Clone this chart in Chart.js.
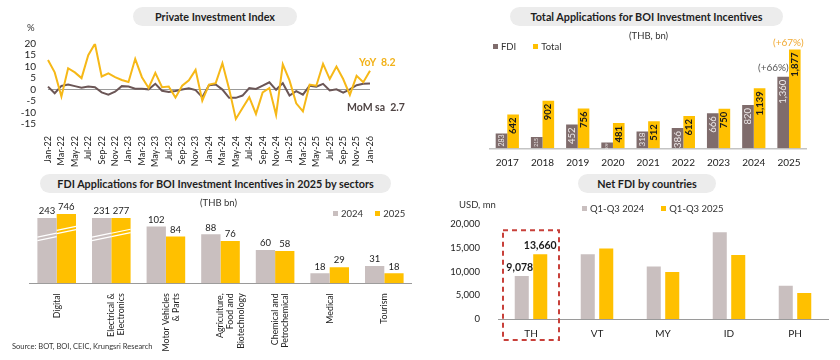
<!DOCTYPE html>
<html>
<head>
<meta charset="utf-8">
<script src="https://cdn.jsdelivr.net/npm/chart.js@4.4.1/dist/chart.umd.min.js"></script>
<style>
  body { margin:0; width:840px; height:360px; background:#fff; position:relative; overflow:hidden; font-family: Lato, "Open Sans", sans-serif; color:#222; }
  .pill { position:absolute; z-index:2; height:19px; line-height:19px; background:#ececec; border-radius:10px; text-align:center; font-weight:bold; font-size:10.8px; color:#1e1e1e; white-space:nowrap; }
  .txt { position:absolute; z-index:2; font-size:9.5px; color:#333; white-space:nowrap; }
  .sq { display:inline-block; width:5px; height:5px; margin-right:3px; vertical-align:middle; position:relative; top:-1px; }
  canvas { position:absolute; z-index:1; }
</style>
</head>
<body>
<canvas id="c1" width="420" height="170" style="left:0;top:0;"></canvas>
<canvas id="c2" width="420" height="170" style="left:420px;top:0;"></canvas>
<canvas id="c3" width="420" height="190" style="left:0;top:170px;"></canvas>
<canvas id="c4" width="420" height="190" style="left:420px;top:170px;"></canvas>

<!-- Panel titles -->
<div class="pill" style="left:133px;top:7px;width:164px;">Private Investment Index</div>
<div class="pill" style="left:510px;top:7px;width:273px;">Total Applications for BOI Investment Incentives</div>
<div class="pill" style="left:40px;top:174px;width:351px;">FDI Applications for BOI Investment Incentives in 2025 by sectors</div>
<div class="pill" style="left:578px;top:174px;width:138px;">Net FDI by countries</div>

<!-- Panel 1 texts -->
<div class="txt" style="left:27px;top:22px;">%</div>
<div class="txt" style="left:359px;top:56px;font-weight:bold;color:#F2B21A;font-size:10.5px;">YoY&nbsp; 8.2</div>
<div class="txt" style="left:347px;top:101px;font-weight:bold;color:#4f4444;font-size:10.5px;">MoM sa&nbsp; 2.7</div>

<!-- Panel 2 texts -->
<div class="txt" style="left:629px;top:30px;">(THB, bn)</div>
<div class="txt" style="left:493px;top:41px;"><span class="sq" style="background:#7F6C6C"></span>FDI&nbsp;&nbsp;&nbsp;&nbsp;&nbsp;&nbsp;&nbsp;<span class="sq" style="background:#FFC000"></span>Total</div>
<div class="txt" style="left:758px;top:61px;color:#555;font-size:10px;">(+66%)</div>
<div class="txt" style="left:773px;top:36px;color:#F0A830;font-size:10px;">(+67%)</div>

<!-- Panel 3 texts -->
<div class="txt" style="left:200px;top:197px;">(THB bn)</div>
<div class="txt" style="left:333px;top:208px;"><span class="sq" style="background:#C9BFBF"></span>2024&nbsp;&nbsp;&nbsp;&nbsp;&nbsp;<span class="sq" style="background:#FFC000"></span>2025</div>
<div class="txt" style="left:12px;top:342px;font-size:7.5px;">Source: BOT, BOI, CEIC, Krungsri Research</div>

<!-- Panel 4 texts -->
<div class="txt" style="left:459px;top:199px;">USD, mn</div>
<div class="txt" style="left:582px;top:203px;"><span class="sq" style="background:#C9BFBF"></span>Q1-Q3 2024&nbsp;&nbsp;&nbsp;&nbsp;&nbsp;&nbsp;&nbsp;<span class="sq" style="background:#FFC000"></span>Q1-Q3 2025</div>

<script>
// ---------------- DATA ----------------
const months = ['Jan-22','Feb-22','Mar-22','Apr-22','May-22','Jun-22','Jul-22','Aug-22','Sep-22','Oct-22','Nov-22','Dec-22',
  'Jan-23','Feb-23','Mar-23','Apr-23','May-23','Jun-23','Jul-23','Aug-23','Sep-23','Oct-23','Nov-23','Dec-23',
  'Jan-24','Feb-24','Mar-24','Apr-24','May-24','Jun-24','Jul-24','Aug-24','Sep-24','Oct-24','Nov-24','Dec-24',
  'Jan-25','Feb-25','Mar-25','Apr-25','May-25','Jun-25','Jul-25','Aug-25','Sep-25','Oct-25','Nov-25','Dec-25','Jan-26'];
const yoy = [12.9,7.5,-3,9.3,7.5,5,15,20,5.7,7.1,5.4,4.2,
  3.3,13.4,5.4,0.7,7.3,1,1.3,-3.5,1.7,4,8.6,-4.8,
  2.2,2.8,11.5,0.3,-12.8,-8,-3.3,-10.6,-1.2,0.7,-11,11,
  4,-6,-9.5,2.2,1.7,11.2,4.6,10,4.6,-2.3,6,3.2,8.2];
const mom = [1.3,-1.6,1.6,2.2,1.5,0.8,1.3,1.0,-1.2,-2.2,-0.9,1.5,
  1.3,0.4,0.4,0.1,2.5,-0.5,-1.0,-0.6,0,0.6,-0.2,-3.3,
  1.9,2.2,0,-3.6,-3.6,-2.6,0.7,0.3,1.7,3.2,-0.1,2.8,
  -2.6,-0.7,-2.2,1.7,1.3,2.5,-0.4,0.1,-1.3,0.1,1.9,2.5,2.7];

const boiYears = ['2017','2018','2019','2020','2021','2022','2023','2024','2025'];
const boiFdi   = [283,215,452,109,318,386,666,820,1360];
const boiTotal = [642,902,756,481,512,612,750,1139,1877];

const sectors = ['Digital',['Electrical &','Electronics'],['Motor Vehicles','& Parts'],['Agriculture,','Food and','Biotechnology'],['Chemical and','Petrochemical'],'Medical','Tourism'];
const sector2024 = [243,231,102,88,60,18,31];
const sector2025 = [746,277,84,76,58,29,18];

const countries = ['TH','VT','MY','ID','PH'];
const netFdi2024 = [9078,13700,11100,18300,7000];
const netFdi2025 = [13660,14900,9900,13500,5500];

// ---------------- STYLE ----------------
const YELLOW = '#FFC000';
const GREY = '#C9BFBF';
const BROWN = '#7F6C6C';
const FONT = 'Lato, "Open Sans", sans-serif';
Chart.defaults.font.family = FONT;
Chart.defaults.color = '#222';

// ---------------- CHART 1: line ----------------
new Chart(document.getElementById('c1'), {
  type: 'line',
  data: {
    labels: months,
    datasets: [
      { data: yoy, borderColor: '#F6B817', borderWidth: 2, pointRadius: 0, tension: 0 },
      { data: mom, borderColor: '#6B5656', borderWidth: 2, pointRadius: 0, tension: 0 }
    ]
  },
  options: {
    responsive: false, animation: false,
    layout: { padding: { top: 43.7, right: 50, bottom: 0, left: 0 } },
    plugins: { legend: { display: false }, tooltip: { enabled: false } },
    scales: {
      x: {
        grid: { display: false }, border: { display: false },
        afterFit: s => { s.height = 46; },
        ticks: { autoSkip: false, minRotation: 90, maxRotation: 90, padding: 4, font: { size: 9 },
          callback: function(v, i) { return i % 2 === 0 ? this.getLabelForValue(v) : ''; } }
      },
      y: {
        min: -15, max: 20,
        afterFit: s => { s.width = 48; },
        border: { display: false },
        grid: { drawTicks: false, color: c => c.tick.value === 0 ? '#9a9a9a' : 'rgba(0,0,0,0)', lineWidth: 1 },
        ticks: { autoSkip: false, stepSize: 5, padding: 12, font: { size: 10 } }
      }
    }
  }
});

// ---------------- CHART 2: BOI totals ----------------
const insideLabels = {
  id: 'insideLabels',
  afterDatasetsDraw(chart) {
    const ctx = chart.ctx;
    chart.data.datasets.forEach((ds, di) => {
      const meta = chart.getDatasetMeta(di);
      meta.data.forEach((bar, i) => {
        const h = bar.base - bar.y;
        let fs = 9.5;
        const txt = ds.data[i].toLocaleString('en-US');
        ctx.save();
        ctx.font = (di === 1 ? 'bold ' : '') + fs + 'px ' + FONT;
        let w = ctx.measureText(txt).width;
        if (w + 5 > h) { fs = Math.max(3.5, fs * (h - 2) / (w + 1)); ctx.font = fs + 'px ' + FONT; }
        ctx.fillStyle = di === 0 ? '#eeeaea' : '#1a1a1a';
        ctx.translate(bar.x, bar.y + (fs < 9.5 ? 1 : 3));
        ctx.rotate(-Math.PI / 2);
        ctx.textAlign = 'right';
        ctx.textBaseline = 'middle';
        ctx.fillText(txt, 0, 0);
        ctx.restore();
      });
    });
  }
};
new Chart(document.getElementById('c2'), {
  type: 'bar',
  data: {
    labels: boiYears,
    datasets: [
      { label: 'FDI', data: boiFdi, backgroundColor: BROWN, categoryPercentage: 0.66, barPercentage: 1 },
      { label: 'Total', data: boiTotal, backgroundColor: YELLOW, categoryPercentage: 0.66, barPercentage: 1 }
    ]
  },
  options: {
    responsive: false, animation: false,
    layout: { padding: { top: 42.9, right: 33.4, bottom: 0, left: 69.7 } },
    plugins: { legend: { display: false }, tooltip: { enabled: false } },
    scales: {
      x: { grid: { display: false }, border: { color: '#c4c4c4', width: 1.5 },
           afterFit: s => { s.height = 21.7; },
           ticks: { padding: 0, font: { size: 10 } } },
      y: { display: false, min: 0, max: 2000 }
    }
  },
  plugins: [insideLabels]
});

// ---------------- CHART 3: sectors (broken axis for Digital / E&E) ----------------
const BREAK_LEVEL = 117.5;
const brokenScale = v => v <= 110 ? v : BREAK_LEVEL + Math.max(0, v - 280) * 0.015;
const sectorLabels = {
  id: 'sectorLabels',
  afterDatasetsDraw(chart) {
    const ctx = chart.ctx;
    const raw = [sector2024, sector2025];
    chart.data.datasets.forEach((ds, di) => {
      const meta = chart.getDatasetMeta(di);
      meta.data.forEach((bar, i) => {
        const v = raw[di][i];
        ctx.save();
        if (v > 110) {
          const h = bar.base - bar.y;
          const cy = bar.base - h * (di === 0 ? 0.71 : 0.77);
          const half = bar.width / 2;
          ctx.strokeStyle = '#ffffff';
          ctx.lineWidth = 1.2;
          [-1.7, 1.7].forEach(off => {
            ctx.beginPath();
            ctx.moveTo(bar.x - half, cy + 2 + off);
            ctx.lineTo(bar.x + half, cy - 2 + off);
            ctx.stroke();
          });
        }
        ctx.fillStyle = '#222';
        ctx.font = '9.5px ' + FONT;
        ctx.textAlign = 'center';
        ctx.textBaseline = 'bottom';
        ctx.fillText(String(v), bar.x, bar.y - 2);
        ctx.restore();
      });
    });
  }
};
new Chart(document.getElementById('c3'), {
  type: 'bar',
  data: {
    labels: sectors,
    datasets: [
      { label: '2024', data: sector2024.map(brokenScale), backgroundColor: GREY, categoryPercentage: 0.707, barPercentage: 1 },
      { label: '2025', data: sector2025.map(brokenScale), backgroundColor: YELLOW, categoryPercentage: 0.707, barPercentage: 1 }
    ]
  },
  options: {
    responsive: false, animation: false,
    layout: { padding: { top: 41, right: 8.4, bottom: 0, left: 29.4 } },
    plugins: { legend: { display: false }, tooltip: { enabled: false } },
    scales: {
      x: { grid: { display: false }, border: { color: '#9a9a9a', width: 1 },
           afterFit: s => { s.height = 76.7; },
           ticks: { autoSkip: false, minRotation: 90, maxRotation: 90, padding: 2, font: { size: 8.8, lineHeight: 1.15 } } },
      y: { display: false, min: 0, max: 130 }
    }
  },
  plugins: [sectorLabels]
});

// ---------------- CHART 4: Net FDI ----------------
const thHighlight = {
  id: 'thHighlight',
  afterDatasetsDraw(chart) {
    const ctx = chart.ctx;
    const xs = chart.scales.x;
    const ca = chart.chartArea;
    const cx = xs.getPixelForValue(0);
    ctx.save();
    ctx.strokeStyle = '#C8403A';
    ctx.lineWidth = 2;
    ctx.setLineDash([5, 4]);
    ctx.strokeRect(cx - 28, ca.top + 6, 56, ca.bottom - ca.top + 15);
    ctx.setLineDash([]);
    ctx.fillStyle = '#1a1a1a';
    ctx.font = 'bold 10.5px ' + FONT;
    ctx.textAlign = 'center';
    ctx.textBaseline = 'bottom';
    [netFdi2024, netFdi2025].forEach((arr, di) => {
      const bar = chart.getDatasetMeta(di).data[0];
      ctx.fillText(arr[0].toLocaleString('en-US'), bar.x - (di === 0 ? 2 : 0), bar.y - 3);
    });
    ctx.restore();
  }
};
new Chart(document.getElementById('c4'), {
  type: 'bar',
  data: {
    labels: countries,
    datasets: [
      { label: 'Q1-Q3 2024', data: netFdi2024, backgroundColor: GREY, categoryPercentage: 0.56, barPercentage: 0.76 },
      { label: 'Q1-Q3 2025', data: netFdi2025, backgroundColor: YELLOW, categoryPercentage: 0.56, barPercentage: 0.76 }
    ]
  },
  options: {
    responsive: false, animation: false,
    layout: { padding: { top: 54.3, right: 12, bottom: 0, left: 0 } },
    plugins: { legend: { display: false }, tooltip: { enabled: false } },
    scales: {
      x: { grid: { display: false }, border: { color: '#9a9a9a', width: 1 },
           afterFit: s => { s.height = 41; },
           ticks: { padding: 1, font: { size: 10 } } },
      y: { min: 0, max: 20000, grid: { display: false }, border: { display: false },
           afterFit: s => { s.width = 78; },
           ticks: { autoSkip: false, stepSize: 5000, padding: 10, font: { size: 9.5 },
                    callback: v => v.toLocaleString('en-US') } }
    }
  },
  plugins: [thHighlight]
});
</script>
</body>
</html>
